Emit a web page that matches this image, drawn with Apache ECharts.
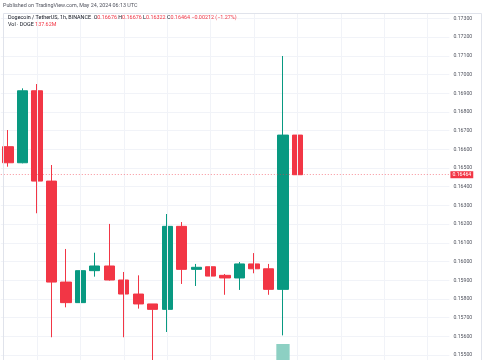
<!DOCTYPE html>
<html>
<head>
<meta charset="utf-8">
<script src="https://cdn.jsdelivr.net/npm/echarts@6/dist/echarts.min.js"></script>
<style>html,body{margin:0;padding:0;background:#fff;}#c{width:485px;height:360px;}</style>
</head>
<body>
<div id="c"></div>
<script>
// Hourly candles, DOGE/USDT (Binance), May 23 10:00 – May 24 06:00 UTC, plus empty future slots
var categories = [
  '23 10:00','23 11:00','23 12:00','23 13:00','23 14:00','23 15:00','23 16:00','23 17:00',
  '23 18:00','23 19:00','23 20:00','23 21:00','23 22:00','23 23:00','24 00:00','24 01:00',
  '24 02:00','24 03:00','24 04:00','24 05:00','24 06:00','24 07:00','24 08:00','24 09:00',
  '24 10:00','24 11:00','24 12:00','24 13:00','24 14:00','24 15:00','24 16:00'
];
var opens  = [0.16614,0.16528,0.16913,0.16430,0.15890,0.15780,0.15951,0.15976,0.15901,0.15826,0.15773,0.15744,0.16188,0.15958,0.15972,0.15926,0.15912,0.15987,0.15961,0.15851,0.16676];
var closes = [0.16528,0.16913,0.16430,0.15890,0.15780,0.15951,0.15976,0.15901,0.15826,0.15773,0.15744,0.16188,0.15958,0.15969,0.15922,0.15912,0.15987,0.15961,0.15851,0.16676,0.16464];
var lows   = [0.16507,0.16525,0.16258,0.15595,0.15755,0.15755,0.15919,0.15898,0.15595,0.15748,0.15460,0.15623,0.15880,0.15869,0.15805,0.15822,0.15848,0.15937,0.15822,0.15605,0.16322];
var highs  = [0.16703,0.16926,0.16949,0.16516,0.16067,0.16022,0.16047,0.16201,0.15944,0.15926,0.15773,0.16254,0.16211,0.15987,0.15975,0.15933,0.15997,0.16045,0.15987,0.17099,0.16676];
// volumes (only the visible bar and the header value are known)
var volumes = [null,null,null,null,null,null,null,null,null,null,null,null,null,null,null,null,null,null,null,380e6,137.62e6];
var yTicks = {min:0.154, max:0.174, interval:0.001};
var lastPrice = 0.16464;

var UP = '#089981', DOWN = '#F23645';
var candleData = categories.map(function(c,i){
  return i < opens.length ? [opens[i], closes[i], lows[i], highs[i]] : '-';
});
var volData = categories.map(function(c,i){
  if (i >= volumes.length || volumes[i] == null) return '-';
  return {value: volumes[i], itemStyle:{color: closes[i] >= opens[i] ? '#8dd0c3' : '#f7a9a7'}};
});
var vLines = [];
for (var k = 2; k < categories.length; k += 3) vLines.push({xAxis: categories[k]});

var chart = echarts.init(document.getElementById('c'), null, {renderer:'canvas'});
var gridLeft = 0.8, gridWidth = 448.6;
chart.setOption({
  animation:false,
  backgroundColor:'#ffffff',
  grid:[
    {left:gridLeft, width:gridWidth, top:-0.3, height:374, containLabel:false, outerBoundsMode:'none'},
    {left:gridLeft, width:gridWidth, top:300, height:120, containLabel:false, outerBoundsMode:'none'}
  ],
  xAxis:[
    {type:'category', data:categories, gridIndex:0, boundaryGap:true,
     axisLine:{show:false}, axisTick:{show:false}, axisLabel:{show:false}, splitLine:{show:false}},
    {type:'category', data:categories, gridIndex:1, boundaryGap:true,
     axisLine:{show:false}, axisTick:{show:false}, axisLabel:{show:false}, splitLine:{show:false}}
  ],
  yAxis:[
    {type:'value', gridIndex:0, position:'right', min:yTicks.min, max:yTicks.max, interval:yTicks.interval,
     axisLine:{show:false}, axisTick:{show:false},
     axisLabel:{show:true, margin:4, fontSize:5.2, color:'#50535e', fontFamily:'Roboto',
       showMaxLabel:false, showMinLabel:false,
       formatter:function(v){return v.toFixed(5);}},
     splitLine:{show:true, lineStyle:{color:'#f1f3f8', width:1}}},
    {type:'value', gridIndex:1, min:0, max:600e6, show:false}
  ],
  series:[
    {type:'bar', xAxisIndex:1, yAxisIndex:1, data:volData, barWidth:'92%', silent:true, z:1},
    {type:'line', xAxisIndex:0, yAxisIndex:0, data:[], silent:true, z:0,
     markLine:{silent:true, symbol:'none', animation:false, label:{show:false},
       lineStyle:{color:'#f1f3f8', type:'solid', width:1}, data:vLines}},
    {type:'candlestick', xAxisIndex:0, yAxisIndex:0, data:candleData, barWidth:'74%', z:3,
     itemStyle:{color:UP, color0:DOWN, borderColor:UP, borderColor0:DOWN, borderWidth:1}},
    {type:'line', xAxisIndex:0, yAxisIndex:0, data:[], silent:true, z:4,
     markLine:{silent:true, symbol:'none', animation:false, precision:5,
       data:[
         {yAxis:lastPrice, lineStyle:{color:'rgba(242,54,69,0.55)', type:[1,2], width:1},
          label:{show:true, position:'end', distance:1, formatter:lastPrice.toFixed(5),
            backgroundColor:DOWN, color:'#fff', fontSize:5.2, fontFamily:'Roboto', padding:[1,2,1,2]}}
       ]}}
  ],
  graphic:[
    {type:'rect', shape:{x:0, y:0, width:485, height:13}, style:{fill:'#fff'}, z:100, silent:true},
    {type:'rect', shape:{x:3.5, y:13.5, width:478, height:360}, style:{fill:'none', stroke:'#e0e3eb', lineWidth:1}, z:101, silent:true},
    {type:'text', left:3, top:3, z:102, silent:true,
     style:{text:'Published on TradingView.com, May 24, 2024 06:13 UTC', fontSize:5.4, fill:'#50535e', fontFamily:'Roboto'}},
    {type:'text', left:8, top:15.5, z:102, silent:true,
     style:{text:'{d|Dogecoin / TetherUS, 1h, BINANCE  O}{r|0.16676} {d|H}{r|0.16676} {d|L}{r|0.16322} {d|C}{r|0.16464} {r|\u22120.00212 (\u22121.27%)}',
       fontSize:5.4, fontFamily:'Roboto',
       rich:{d:{fill:'#131722', fontSize:5.4, fontFamily:'Roboto'}, r:{fill:DOWN, fontSize:5.4, fontFamily:'Roboto'}}}},
    {type:'text', left:8, top:21.8, z:102, silent:true,
     style:{text:'{d|Vol \u00b7 DOGE} {r|137.62M}', fontSize:5.4, fontFamily:'Roboto',
       rich:{d:{fill:'#131722', fontSize:5.4, fontFamily:'Roboto'}, r:{fill:DOWN, fontSize:5.4, fontFamily:'Roboto'}}}}
  ]
});
</script>
</body>
</html>
